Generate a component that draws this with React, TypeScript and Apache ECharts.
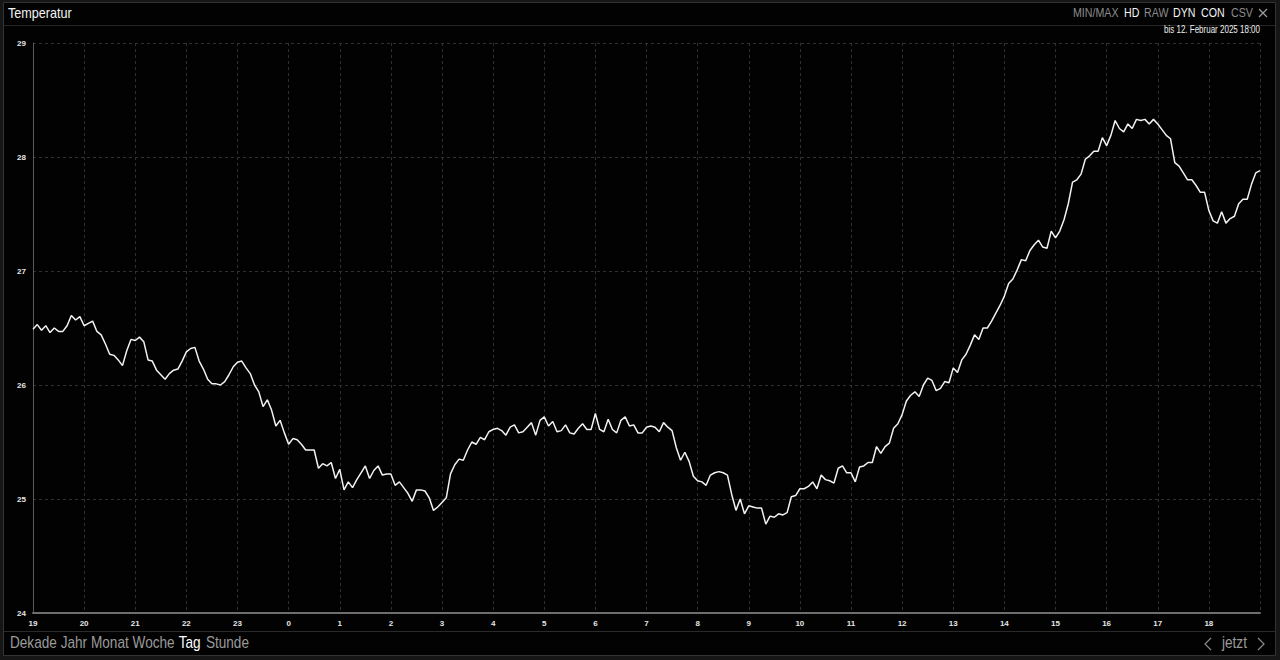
import React, { useEffect, useRef } from "react";
import * as echarts from "echarts";

// Temperature in °C, 5-minute samples from 19:00 to 19:00 (next day)
const temperature: number[] = [
  26.49, 26.53, 26.48, 26.52, 26.46, 26.50, 26.47, 26.47, 26.52, 26.61, 26.57, 26.60,
  26.52, 26.54, 26.56, 26.47, 26.44, 26.36, 26.27, 26.26, 26.22, 26.17, 26.30, 26.40,
  26.39, 26.42, 26.38, 26.22, 26.21, 26.13, 26.09, 26.05, 26.10, 26.13, 26.14, 26.21,
  26.29, 26.32, 26.33, 26.21, 26.14, 26.05, 26.01, 26.01, 26.00, 26.03, 26.09, 26.16,
  26.20, 26.21, 26.15, 26.10, 26.00, 25.94, 25.81, 25.87, 25.78, 25.64, 25.69, 25.58,
  25.48, 25.53, 25.52, 25.48, 25.43, 25.43, 25.43, 25.27, 25.31, 25.29, 25.32, 25.18,
  25.26, 25.08, 25.15, 25.10, 25.17, 25.23, 25.29, 25.18, 25.25, 25.29, 25.21, 25.22,
  25.22, 25.12, 25.15, 25.10, 25.05, 24.98, 25.08, 25.08, 25.07, 25.01, 24.90, 24.93,
  24.97, 25.01, 25.22, 25.30, 25.35, 25.34, 25.43, 25.50, 25.48, 25.54, 25.52, 25.59,
  25.61, 25.62, 25.60, 25.56, 25.63, 25.65, 25.58, 25.59, 25.63, 25.67, 25.56, 25.69,
  25.72, 25.64, 25.68, 25.59, 25.60, 25.65, 25.58, 25.57, 25.62, 25.66, 25.61, 25.61,
  25.75, 25.61, 25.59, 25.70, 25.61, 25.58, 25.69, 25.72, 25.64, 25.65, 25.58, 25.58,
  25.63, 25.64, 25.63, 25.59, 25.67, 25.63, 25.60, 25.45, 25.34, 25.41, 25.33, 25.20,
  25.16, 25.15, 25.12, 25.21, 25.23, 25.24, 25.23, 25.21, 25.04, 24.90, 25.00, 24.87,
  24.94, 24.93, 24.92, 24.92, 24.78, 24.85, 24.84, 24.87, 24.86, 24.88, 25.02, 25.03,
  25.09, 25.09, 25.11, 25.15, 25.09, 25.21, 25.17, 25.16, 25.14, 25.27, 25.29, 25.23,
  25.23, 25.15, 25.28, 25.29, 25.32, 25.32, 25.46, 25.40, 25.46, 25.49, 25.62, 25.66,
  25.74, 25.86, 25.91, 25.94, 25.90, 26.00, 26.06, 26.04, 25.95, 25.97, 26.03, 26.02,
  26.15, 26.11, 26.22, 26.27, 26.35, 26.44, 26.40, 26.50, 26.50, 26.56, 26.63, 26.70,
  26.78, 26.89, 26.93, 27.01, 27.10, 27.09, 27.18, 27.23, 27.27, 27.21, 27.20, 27.35,
  27.29, 27.35, 27.45, 27.59, 27.78, 27.80, 27.85, 27.98, 28.01, 28.05, 28.05, 28.17,
  28.10, 28.19, 28.32, 28.25, 28.22, 28.29, 28.25, 28.33, 28.32, 28.33, 28.29, 28.33,
  28.29, 28.24, 28.19, 28.16, 27.95, 27.92, 27.86, 27.80, 27.80, 27.75, 27.69, 27.69,
  27.53, 27.44, 27.42, 27.52, 27.42, 27.46, 27.48, 27.59, 27.63, 27.63, 27.76, 27.86,
  27.88,
];

const samplesPerHour = 12;

// Hour tick labels, one per hour starting at 19:00
const hourLabels: string[] = [
  "19", "20", "21", "22", "23", "0", "1", "2", "3", "4", "5", "6",
  "7", "8", "9", "10", "11", "12", "13", "14", "15", "16", "17", "18",
];

const title = "Temperatur";
const subtitle = "bis 12. Februar 2025 18:00";
const modes: { label: string; active: boolean }[] = [
  { label: "MIN/MAX", active: false },
  { label: "HD", active: true },
  { label: "RAW", active: false },
  { label: "DYN", active: true },
  { label: "CON", active: true },
  { label: "CSV", active: false },
];
const ranges: { label: string; active: boolean }[] = [
  { label: "Dekade", active: false },
  { label: "Jahr", active: false },
  { label: "Monat", active: false },
  { label: "Woche", active: false },
  { label: "Tag", active: true },
  { label: "Stunde", active: false },
];
const nowLabel = "jetzt";

const FONT = "'Liberation Sans', Arial, sans-serif";

function txt(
  text: string,
  x: number,
  y: number,
  size: number,
  color: string,
  sx: number,
  align: string = "left",
  weight: string = "normal"
) {
  return {
    type: "text",
    x,
    y,
    scaleX: sx,
    silent: true,
    style: {
      text,
      fill: color,
      font: `${weight} ${size}px ${FONT}`,
      textAlign: align,
      textVerticalAlign: "middle",
    },
  };
}

function buildGraphics() {
  const g: any[] = [];
  // panel frame
  g.push({
    type: "rect",
    shape: { x: 3.5, y: 2.5, width: 1272, height: 653 },
    style: { fill: "#020202", stroke: "#333", lineWidth: 1 },
    z: -10,
    silent: true,
  });
  // header and footer separators
  g.push({
    type: "line",
    shape: { x1: 4, y1: 25.5, x2: 1275, y2: 25.5 },
    style: { stroke: "#262626", lineWidth: 1 },
    silent: true,
  });
  g.push({
    type: "line",
    shape: { x1: 4, y1: 631.5, x2: 1275, y2: 631.5 },
    style: { stroke: "#2a2a2a", lineWidth: 1 },
    silent: true,
  });
  // title
  g.push(txt(title, 8, 13, 14, "#f4f4f4", 0.9));
  // mode switches
  const modeX = [1073, 1124, 1144, 1173, 1201, 1231];
  modes.forEach((m, i) => {
    g.push(txt(m.label, modeX[i], 13, 13, m.active ? "#f4f4f4" : "#8c8c8c", 0.82));
  });
  // close cross
  g.push({
    type: "line",
    shape: { x1: 1259, y1: 9, x2: 1267, y2: 17 },
    style: { stroke: "#9a9a9a", lineWidth: 1.2 },
    silent: true,
  });
  g.push({
    type: "line",
    shape: { x1: 1267, y1: 9, x2: 1259, y2: 17 },
    style: { stroke: "#9a9a9a", lineWidth: 1.2 },
    silent: true,
  });
  // period subtitle
  g.push(txt(subtitle, 1260, 30, 10, "#eeeeee", 0.8, "right"));
  // range selector
  const rangeX = [10, 60.7, 91, 132.6, 178.7, 205.9];
  ranges.forEach((r, i) => {
    g.push(txt(r.label, rangeX[i], 643, 16, r.active ? "#ffffff" : "#9a9a9a", 0.85));
  });
  // navigation
  g.push(txt(nowLabel, 1222, 643, 16, "#9a9a9a", 0.85));
  g.push({
    type: "polyline",
    shape: { points: [[1211, 638], [1205, 644], [1211, 650]] },
    style: { stroke: "#8a8a8a", lineWidth: 1.2, fill: "none" },
    silent: true,
  });
  g.push({
    type: "polyline",
    shape: { points: [[1258, 638], [1264, 644], [1258, 650]] },
    style: { stroke: "#8a8a8a", lineWidth: 1.2, fill: "none" },
    silent: true,
  });
  return g;
}

export default function App() {
  const ref = useRef<HTMLDivElement>(null);

  useEffect(() => {
    if (!ref.current) return;
    const chart = echarts.init(ref.current, undefined, { renderer: "svg" });
    const data = temperature.map((t, i) => [i / samplesPerHour, t]);
    const axisFont = {
      color: "#e6e6e6",
      fontSize: 8,
      fontWeight: "bold" as const,
      fontFamily: "'Liberation Sans Narrow', 'Liberation Sans', Arial, sans-serif",
    };
    chart.setOption({
      animation: false,
      backgroundColor: "#161616",
      grid: { left: 33, right: 20, top: 43, bottom: 47, containLabel: false },
      xAxis: {
        type: "value",
        min: 0,
        max: 24,
        interval: 1,
        axisLine: { show: true, lineStyle: { color: "#6e6e6e", width: 2 } },
        axisTick: { show: false },
        axisLabel: {
          ...axisFont,
          margin: 6,
          showMaxLabel: false,
          formatter: (v: number) => hourLabels[Math.round(v)] ?? "",
        },
        splitLine: { show: true, lineStyle: { color: "#303030", width: 1, type: [3, 3] } },
      },
      yAxis: {
        type: "value",
        min: 24,
        max: 29,
        interval: 1,
        axisLine: { show: true, lineStyle: { color: "#5a5a5a", width: 1 } },
        axisTick: { show: false },
        axisLabel: { ...axisFont, margin: 7 },
        splitLine: { show: true, lineStyle: { color: "#303030", width: 1, type: [3, 3] } },
      },
      series: [
        {
          type: "line",
          data,
          showSymbol: false,
          silent: true,
          lineStyle: { color: "#f2f2f2", width: 1.5 },
        },
      ],
      graphic: buildGraphics(),
    });
    return () => chart.dispose();
  }, []);

  return (
    <div
      style={{ position: "fixed", left: 0, top: 0, width: 1280, height: 660, background: "#161616" }}
    >
      <div ref={ref} style={{ width: 1280, height: 660 }} />
    </div>
  );
}
